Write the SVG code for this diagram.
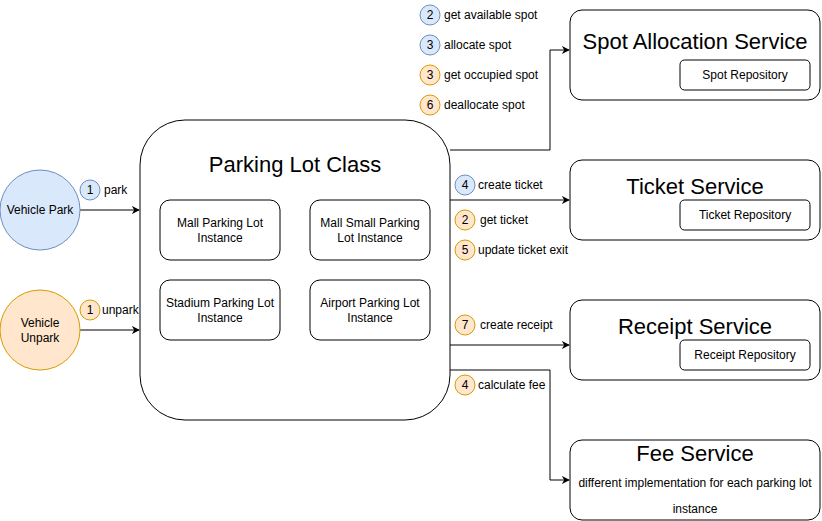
<svg xmlns="http://www.w3.org/2000/svg" width="822" height="521" viewBox="0 0 822 521">
<defs>
<marker id="arr" viewBox="0 0 10 10" refX="9" refY="5" markerWidth="8" markerHeight="8" markerUnits="userSpaceOnUse" orient="auto">
<path d="M0,0 L10,5 L0,10 L3,5 z" fill="#000"/>
</marker>
<style>
.box{fill:#fff;stroke:#000;stroke-width:1}
.t{font-family:"Liberation Sans",Arial,sans-serif;font-size:12px;fill:#000}
.c{text-anchor:middle}
.big{font-size:22px}
.blue{fill:#dae8fc;stroke:#6c8ebf;stroke-width:1}
.orange{fill:#ffe6cc;stroke:#d79b00;stroke-width:1}
.ln{fill:none;stroke:#000;stroke-width:1;marker-end:url(#arr)}
</style>
</defs>
<rect width="822" height="521" fill="#fff"/>

<g id="connectors">
<path class="ln" d="M80,210 L139,210"/>
<path class="ln" d="M80,330 L139,330"/>
<path class="ln" d="M450,150 L550,150 L550,50 L569,50"/>
<path class="ln" d="M450,200 L569,200"/>
<path class="ln" d="M450,345 L569,345"/>
<path class="ln" d="M450,370 L550,370 L550,480 L569,480"/>
</g>

<g id="vehicle-park">
<circle class="blue" cx="40" cy="210" r="40"/>
<text class="t c" x="40" y="214">Vehicle Park</text>
</g>
<g id="vehicle-unpark">
<circle class="orange" cx="40" cy="330" r="40"/>
<text class="t c" x="40" y="327">Vehicle</text>
<text class="t c" x="40" y="342">Unpark</text>
</g>

<g id="parking-lot-class">
<rect class="box" x="140" y="120" width="310" height="300" rx="45"/>
<text class="t c big" x="295" y="172">Parking Lot Class</text>
</g>
<g id="mall-parking-lot">
<rect class="box" x="160" y="200" width="120" height="60" rx="10"/>
<text class="t c" x="220" y="227">Mall Parking Lot</text>
<text class="t c" x="220" y="242">Instance</text>
</g>
<g id="mall-small-parking-lot">
<rect class="box" x="310" y="200" width="120" height="60" rx="10"/>
<text class="t c" x="370" y="227">Mall Small Parking</text>
<text class="t c" x="370" y="242">Lot Instance</text>
</g>
<g id="stadium-parking-lot">
<rect class="box" x="160" y="280" width="120" height="60" rx="10"/>
<text class="t c" x="220" y="307">Stadium Parking Lot</text>
<text class="t c" x="220" y="322">Instance</text>
</g>
<g id="airport-parking-lot">
<rect class="box" x="310" y="280" width="120" height="60" rx="10"/>
<text class="t c" x="370" y="307">Airport Parking Lot</text>
<text class="t c" x="370" y="322">Instance</text>
</g>

<g id="spot-allocation-service">
<rect class="box" x="570" y="10" width="250" height="90" rx="12"/>
<text class="t c big" x="695" y="49">Spot Allocation Service</text>
<rect class="box" x="680" y="60" width="130" height="30" rx="4.5"/>
<text class="t c" x="745" y="79">Spot Repository</text>
</g>
<g id="ticket-service">
<rect class="box" x="570" y="160" width="250" height="80" rx="12"/>
<text class="t c big" x="695" y="194">Ticket Service</text>
<rect class="box" x="680" y="200" width="130" height="30" rx="4.5"/>
<text class="t c" x="745" y="219">Ticket Repository</text>
</g>
<g id="receipt-service">
<rect class="box" x="570" y="300" width="250" height="80" rx="12"/>
<text class="t c big" x="695" y="334">Receipt Service</text>
<rect class="box" x="680" y="340" width="130" height="30" rx="4.5"/>
<text class="t c" x="745" y="359">Receipt Repository</text>
</g>
<g id="fee-service">
<rect class="box" x="570" y="440" width="250" height="80" rx="12"/>
<text class="t c big" x="695" y="461">Fee Service</text>
<text class="t c" x="695" y="487">different implementation for each parking lot</text>
<text class="t c" x="695" y="513">instance</text>
</g>

<g id="labels">
<circle class="blue" cx="90" cy="190" r="10"/><text class="t c" x="90" y="194">1</text>
<text class="t" x="104" y="194">park</text>
<circle class="orange" cx="90" cy="310" r="10"/><text class="t c" x="90" y="314">1</text>
<text class="t" x="102" y="314">unpark</text>

<circle class="blue" cx="430" cy="15" r="10"/><text class="t c" x="430" y="19">2</text>
<text class="t" x="444" y="19">get available spot</text>
<circle class="blue" cx="430" cy="45" r="10"/><text class="t c" x="430" y="49">3</text>
<text class="t" x="444" y="49">allocate spot</text>
<circle class="orange" cx="430" cy="75" r="10"/><text class="t c" x="430" y="79">3</text>
<text class="t" x="444" y="79">get occupied spot</text>
<circle class="orange" cx="430" cy="105" r="10"/><text class="t c" x="430" y="109">6</text>
<text class="t" x="444" y="109">deallocate spot</text>

<circle class="blue" cx="465" cy="185" r="10"/><text class="t c" x="465" y="189">4</text>
<text class="t" x="478" y="189">create ticket</text>
<circle class="orange" cx="465" cy="220" r="10"/><text class="t c" x="465" y="224">2</text>
<text class="t" x="480" y="224">get ticket</text>
<circle class="orange" cx="465" cy="250" r="10"/><text class="t c" x="465" y="254">5</text>
<text class="t" x="478" y="254">update ticket exit</text>
<circle class="orange" cx="465" cy="325" r="10"/><text class="t c" x="465" y="329">7</text>
<text class="t" x="480" y="329">create receipt</text>
<circle class="orange" cx="465" cy="385" r="10"/><text class="t c" x="465" y="389">4</text>
<text class="t" x="478" y="389">calculate fee</text>
</g>
</svg>
